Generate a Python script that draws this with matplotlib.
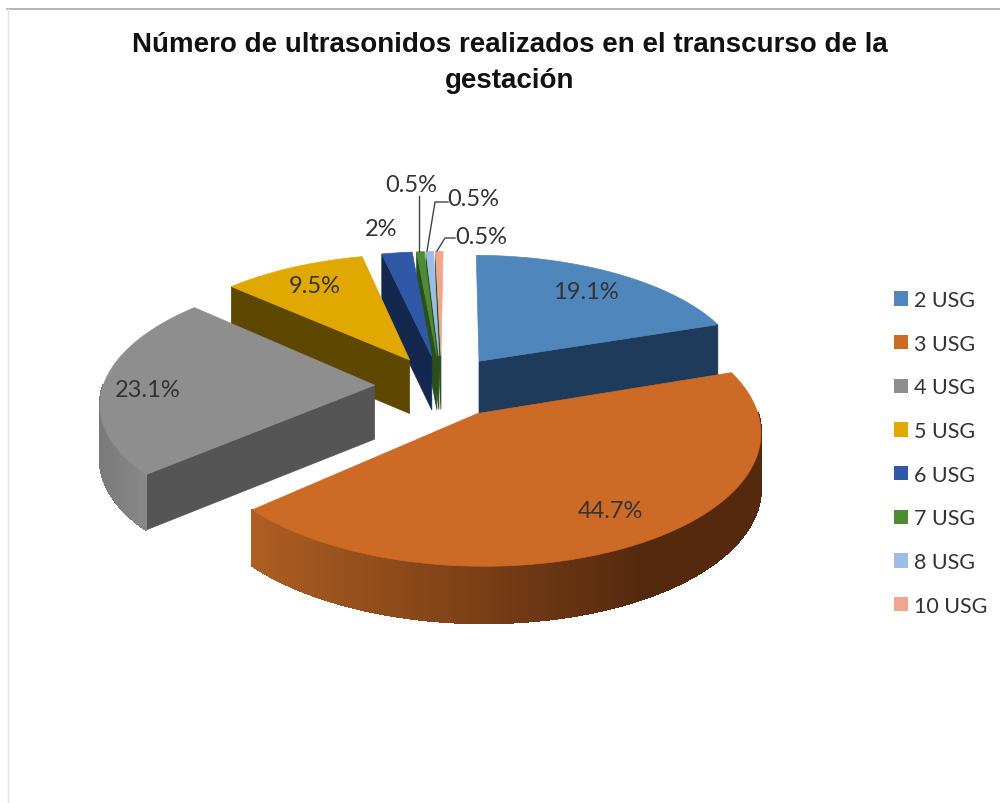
import numpy as np
import matplotlib
matplotlib.use("Agg")
import matplotlib.pyplot as plt
from matplotlib.collections import PolyCollection
from matplotlib.colors import to_rgb
from matplotlib.patches import Patch, Polygon

title = "Número de ultrasonidos realizados en el transcurso de la\ngestación"
categories = ["2 USG", "3 USG", "4 USG", "5 USG", "6 USG", "7 USG", "8 USG", "10 USG"]
values = [19.1, 44.7, 23.1, 9.5, 2, 0.5, 0.5, 0.5]
value_labels = ["19.1%", "44.7%", "23.1%", "9.5%", "2%", "0.5%", "0.5%", "0.5%"]

top_colors = ["#4F86BC", "#CC6A26", "#8E8E8E", "#E0A800", "#2F58A6", "#4E8B35", "#9CBDE6", "#EFA68C"]
side_colors = ["#1F3B5C", "#7A4015", "#555555", "#5E4700", "#14284F", "#2B4F1C", "#2B4F1C", "#2B4F1C"]

# fake 3D camera, everything ends up in pixel coords of the 1000x804 figure
CX, CY = 442, 383
RX, RY = 270, 124
EXPLODE = 0.25
PERSP = 0.15
DEPTH = 54
APEX_DROP = 4


def project(x, y):
    s = 1 / (1 + PERSP * y)
    return CX + RX * x * s, CY - RY * y * s, DEPTH * s ** 0.25


def warp(theta):
    # the original 3D view skews the slice borders a little
    return theta + np.radians(0.5 + 4 * np.sin(theta))


def wedge_points(start, end, mid):
    """Projected outline of one exploded slice, angles clockwise from the top"""
    ox, oy = EXPLODE * np.sin(mid), EXPLODE * np.cos(mid)
    theta = warp(np.linspace(start, end, max(3, int(np.degrees(end - start)))))
    sx, sy, sd = project(ox + np.sin(theta), oy + np.cos(theta))
    ax_, ay_, ad_ = project(ox, oy)
    return theta, sx, sy, sd, ax_, ay_ + APEX_DROP, ad_


def mix(c1, c2, t):
    c1, c2 = np.array(to_rgb(c1)), np.array(to_rgb(c2))
    return tuple(c1 + (c2 - c1) * t)


def arc_color(i, x):
    # orange and grey rims have a gradient across the picture, the rest are flat
    if i == 1:
        return mix("#AE5E22", "#55290E", np.clip((x - 250) / 390, 0, 1))
    if i == 2:
        return mix("#7A7A7A", "#8A8A8A", np.clip((x - 100) / 50, 0, 1))
    return side_colors[i]


def draw_slice(ax, i, start, end):
    mid = (start + end) / 2
    theta, sx, sy, sd, ax_, ay_, ad_ = wedge_points(start, end, mid)

    # cut faces first, rim after, lid last. Only what faces the viewer
    for k, visible in ((0, np.sin(start) < -0.01), (-1, np.sin(end) > 0.01)):
        if not visible:
            continue
        quad = [(ax_, ay_), (sx[k], sy[k]), (sx[k], sy[k] + sd[k]), (ax_, ay_ + ad_)]
        ax.add_patch(Polygon(quad, closed=True, facecolor=side_colors[i], edgecolor=side_colors[i], lw=0.5))

    quads, cols = [], []
    for k in range(len(theta) - 1):
        if np.cos((theta[k] + theta[k + 1]) / 2) > -0.03:
            continue
        quads.append([(sx[k], sy[k]), (sx[k + 1], sy[k + 1]),
                      (sx[k + 1], sy[k + 1] + sd[k + 1]), (sx[k], sy[k] + sd[k])])
        cols.append(arc_color(i, (sx[k] + sx[k + 1]) / 2))
    if quads:
        ax.add_collection(PolyCollection(quads, facecolors=cols, edgecolors=cols, linewidths=1, antialiaseds=False))

    lid = [(ax_, ay_)] + list(zip(sx, sy))
    ax.add_patch(Polygon(lid, closed=True, facecolor=top_colors[i], edgecolor=top_colors[i], lw=0.5))


def main():
    fig = plt.figure(figsize=(10, 8.04), dpi=100, facecolor="white")
    ax = fig.add_axes([0, 0, 1, 1])
    ax.set_xlim(0, 1000)
    ax.set_ylim(804, 0)
    ax.axis("off")

    # frame of the original slide
    ax.plot([7, 1000], [9.5, 9.5], color="#A8A8A8", lw=1.2)
    ax.plot([7.5, 7.5], [9.5, 804], color="#E2E2E2", lw=1)

    ax.text(510, 63, title, ha="center", va="center", fontsize=20, fontweight="bold",
            family="Liberation Sans", color="#111111", linespacing=1.45)

    shares = np.array(values) / sum(values) * 2 * np.pi
    ends = np.cumsum(shares)
    starts = ends - shares

    # far slices first so the near ones cover them, thin ones right to left
    order = [7, 6, 5, 4, 3, 0, 2, 1]
    for i in order:
        draw_slice(ax, i, starts[i], ends[i])

    label_font = dict(family="Lato", fontsize=17, color="#333333", ha="center", va="center")
    label_xy = [(586, 293), (610, 511), (148, 391), (315, 287), (381, 230), (411, 186), (473, 200), (481, 237)]
    for txt, (x, y) in zip(value_labels, label_xy):
        ax.text(x, y, txt, **label_font)

    # leader lines of the small slices
    leaders = [([419, 419], [197, 252]), ([448, 435, 427], [203, 203, 252]), ([455, 445, 437], [239, 239, 252])]
    for xs, ys in leaders:
        ax.plot(xs, ys, color="#444444", lw=1)

    handles = [Patch(facecolor=c, edgecolor="none") for c in top_colors]
    fig.legend(handles, categories, loc="upper left", bbox_to_anchor=(0.894, 0.638), frameon=False,
               prop={"family": "Lato", "size": 15.5}, labelcolor="#333333", handlelength=0.65, handleheight=0.65,
               handletextpad=0.28, labelspacing=1.1, borderpad=0, borderaxespad=0)

    fig.savefig("out.png", dpi=100)


if __name__ == "__main__":
    main()
